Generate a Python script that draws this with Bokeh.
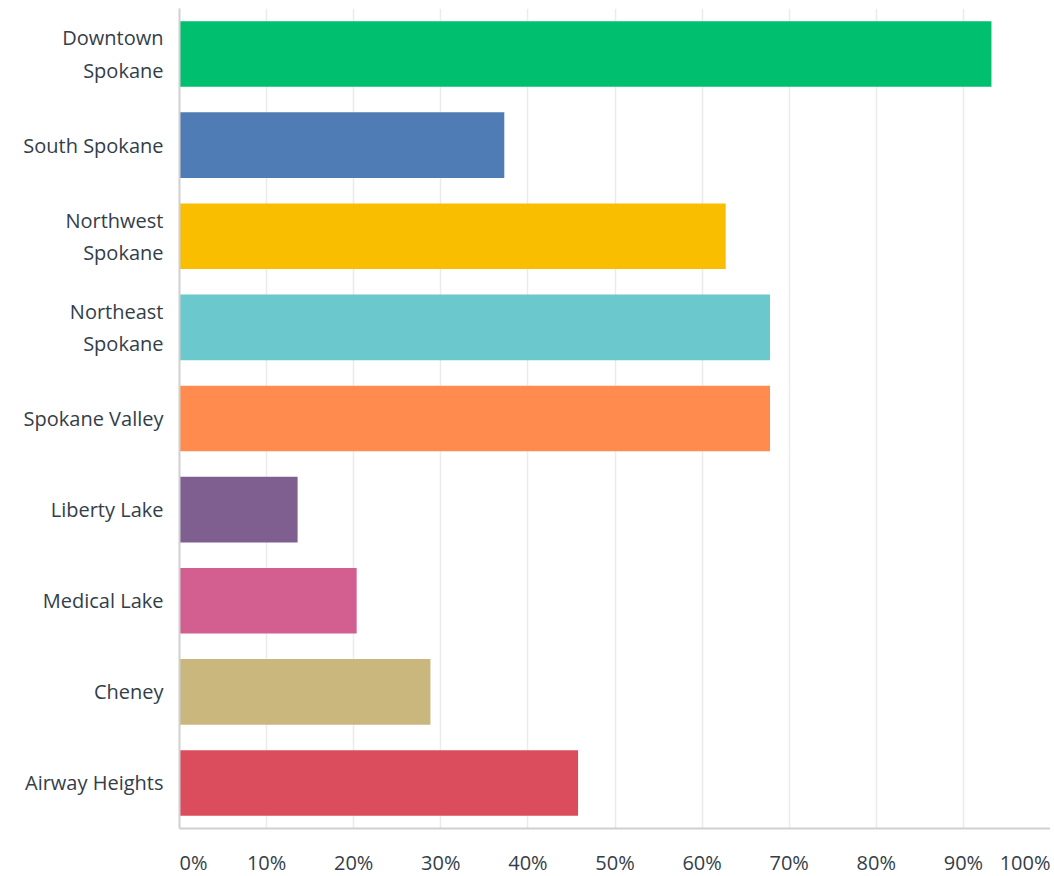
from bokeh.plotting import figure
from bokeh.models import ColumnDataSource, Range1d, FactorRange, FixedTicker
from bokeh.layouts import column
from bokeh.embed import file_html
from bokeh.resources import INLINE
from bokeh.core.properties import value

categories = ["Downtown\nSpokane", "South Spokane", "Northwest\nSpokane", "Northeast\nSpokane",
              "Spokane Valley", "Liberty Lake", "Medical Lake", "Cheney", "Airway Heights"]
percents = [93.22, 37.29, 62.71, 67.80, 67.80, 13.56, 20.34, 28.81, 45.76]
colors = ["#00bf6f", "#507cb6", "#f9be00", "#6bc8cd", "#ff8b4f",
          "#7f5f90", "#d25f90", "#c9b77d", "#db4d5c"]
tick_values = [0, 10, 20, 30, 40, 50, 60, 70, 80, 90, 100]
tick_labels = ["0%", "10%", "20%", "30%", "40%", "50%", "60%", "70%", "80%", "90%", "100%"]
tick_align = ["left"] + ["center"] * 9 + ["right"]

FONT = "Open Sans"
TXT = "#333e48"

src = ColumnDataSource(dict(cat=categories, pct=percents, color=colors))

p = figure(width=1050, height=838, output_backend="svg", toolbar_location=None,
           y_range=FactorRange(factors=list(reversed(categories)), range_padding=0),
           x_range=Range1d(0, 100),
           min_border_left=179, min_border_right=0, min_border_top=8, min_border_bottom=10)
p.hbar(y="cat", right="pct", left=0, height=0.72, color="color", line_color=None, source=src)

p.outline_line_color = None
p.ygrid.grid_line_color = None
p.xgrid.ticker = FixedTicker(ticks=tick_values)
p.xgrid.grid_line_color = "#ebebeb"
p.xgrid.grid_line_width = 1.5

p.xaxis.ticker = FixedTicker(ticks=[])
p.xaxis.major_label_standoff = 0
p.xaxis.major_tick_line_color = None
p.xaxis.major_tick_out = 0
p.xaxis.minor_tick_line_color = None
p.xaxis.axis_line_color = "#d0d0d0"
p.xaxis.axis_line_width = 2

p.yaxis.axis_line_color = "#d0d0d0"
p.yaxis.axis_line_width = 2
p.yaxis.major_tick_line_color = None
p.yaxis.minor_tick_line_color = None
p.yaxis.major_label_standoff = 10
p.yaxis.major_label_text_font = FONT
p.yaxis.major_label_text_font_size = "20px"
p.yaxis.major_label_text_color = TXT

p2 = figure(width=1050, height=38, output_backend="svg", toolbar_location=None,
            x_range=p.x_range, y_range=Range1d(0, 1),
            min_border_left=179, min_border_right=0, min_border_top=0, min_border_bottom=0)
p2.axis.visible = False
p2.grid.grid_line_color = None
p2.outline_line_color = None
tsrc = ColumnDataSource(dict(x=tick_values, y=[0.37] * len(tick_values), t=tick_labels, a=tick_align))
p2.text(x="x", y="y", text="t", text_align="a", text_baseline="middle", source=tsrc,
        text_font=value(FONT), text_font_size="20px", text_color=TXT)

layout = column(p, p2, spacing=0)
open("out.html", "w").write(file_html(layout, INLINE))
